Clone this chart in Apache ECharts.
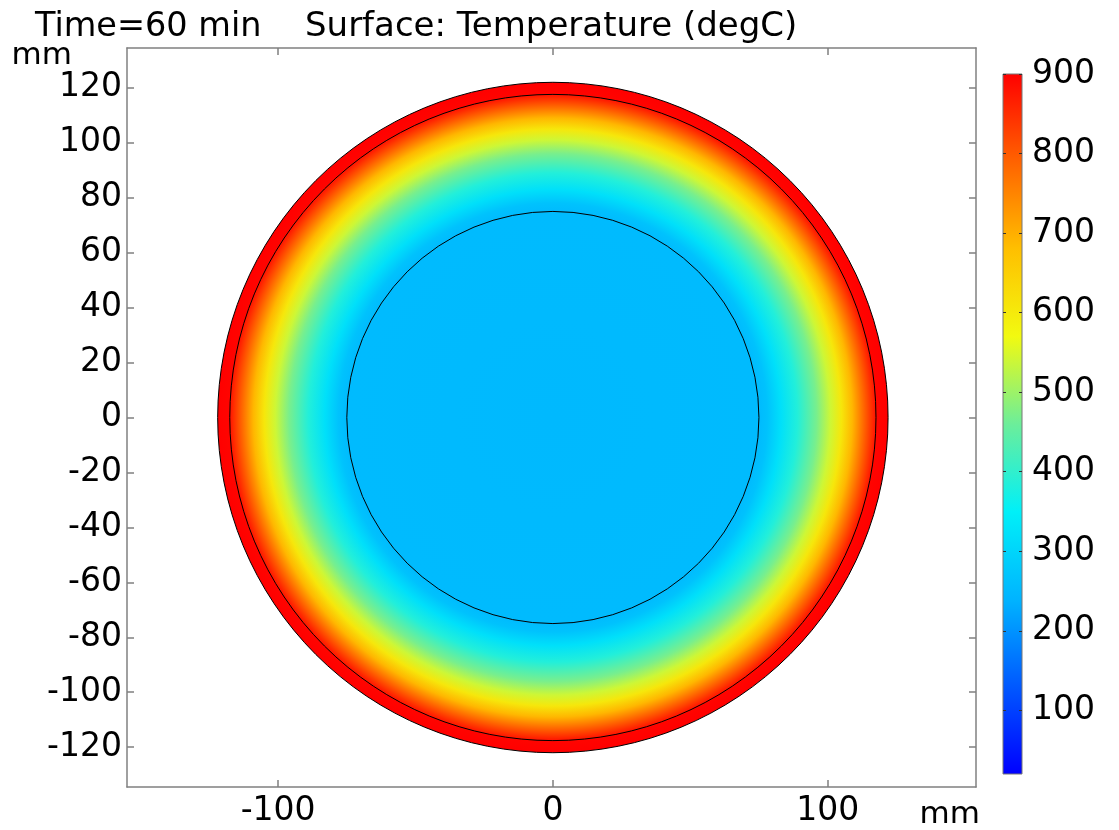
<!DOCTYPE html>
<html>
<head>
<meta charset="utf-8">
<script src="https://cdn.jsdelivr.net/npm/echarts@6/dist/echarts.min.js"></script>
<style>
html, body { margin: 0; padding: 0; background: #fff; }
#main { width: 1119px; height: 830px; }
</style>
</head>
<body>
<div id="main"></div>
<script>
// radial temperature profile at t = 60 min (radius in mm, temperature in degC)
var radius = [0, 75, 78, 83, 89, 96, 101, 105, 109, 113, 117.6, 118, 122];
var temperature = [250, 252, 265, 320, 385, 470, 540, 605, 690, 780, 880, 895, 900];
// domain boundaries (black lines), mm
var boundaryRadius = [75, 117.6, 122];
// tick labels
var xTicks = [-100, 0, 100];
var yTicks = [-120, -100, -80, -60, -40, -20, 0, 20, 40, 60, 80, 100, 120];
var barTicks = [100, 200, 300, 400, 500, 600, 700, 800, 900];
// colour range
var tempMin = 20;
var tempMax = 900;
var rainbow = ['#0000ff', '#0058ff', '#00b4ff', '#00f0f8', '#6cee9a', '#f2fa10', '#ffbf00', '#ff6200', '#ff0000'];

var FONT = 'DejaVu Sans';
var AXIS_GRAY = '#808080';

function $each(arr, fn) {
	for (var i = 0; i < arr.length; i++) {
		fn(i, arr[i]);
	}
}

var tempColor = function(t) {
	var v = (t - tempMin) / (tempMax - tempMin);
	return echarts.color.lerp(Math.max(0, Math.min(1, v)), rainbow);
};

var chart = echarts.init(document.getElementById('main'));

var tickStyle = { color: AXIS_GRAY, width: 1.5 };
var labelStyle = { fontFamily: FONT, fontSize: 33, color: '#000' };
var titleStyle = { fontFamily: FONT, fontSize: 34, fontWeight: 'normal', color: '#000' };
var lineStyle = { onZero: false, lineStyle: tickStyle };

var option = {
	animation: false,
	title: [ {
		text: 'Time=60 min',
		left: 35, top: 10, padding: 0,
		textStyle: { fontFamily: FONT, fontSize: 33.5, fontWeight: 'normal', color: '#000' }
	}, {
		text: 'Surface: Temperature (degC)',
		left: 305, top: 10, padding: 0,
		textStyle: titleStyle
	} ],
	grid: [ {
		left: 127, top: 48, width: 849, height: 739
	}, {
		left: 1003, top: 74, width: 19, height: 700
	} ],
	xAxis: [ {
		gridIndex: 0, type: 'value', min: -155, max: 154, position: 'bottom',
		name: 'mm', nameLocation: 'end', nameGap: 4,
		nameTextStyle: { fontFamily: FONT, fontSize: 31, color: '#000', align: 'right', verticalAlign: 'top', padding: [12, 0, 0, 0] },
		axisLine: lineStyle,
		axisTick: { inside: true, length: 7, customValues: xTicks, lineStyle: tickStyle },
		axisLabel: Object.assign({ customValues: xTicks, margin: 8 }, labelStyle),
		splitLine: { show: false }
	}, {
		gridIndex: 0, type: 'value', min: -155, max: 154, position: 'top',
		axisLine: lineStyle,
		axisTick: { inside: true, length: 7, customValues: xTicks, lineStyle: tickStyle },
		axisLabel: { show: false },
		splitLine: { show: false }
	}, {
		gridIndex: 1, type: 'value', min: 0, max: 1, show: false
	} ],
	yAxis: [ {
		gridIndex: 0, type: 'value', min: -134.5, max: 134.5, position: 'left',
		name: 'mm', nameLocation: 'end', nameGap: -29,
		nameTextStyle: { fontFamily: FONT, fontSize: 31, color: '#000', align: 'right', verticalAlign: 'bottom', padding: [0, 55, 0, 0] },
		axisLine: lineStyle,
		axisTick: { inside: true, length: 7, customValues: yTicks, lineStyle: tickStyle },
		axisLabel: Object.assign({ customValues: yTicks, margin: 5 }, labelStyle),
		splitLine: { show: false }
	}, {
		gridIndex: 0, type: 'value', min: -134.5, max: 134.5, position: 'right',
		axisLine: lineStyle,
		axisTick: { inside: true, length: 7, customValues: yTicks, lineStyle: tickStyle },
		axisLabel: { show: false },
		splitLine: { show: false }
	}, {
		gridIndex: 1, type: 'value', min: tempMin, max: tempMax, position: 'right', z: 10,
		axisLine: { show: false, onZero: false },
		axisTick: { inside: true, length: 3, customValues: barTicks, lineStyle: { color: '#333', width: 1 } },
		axisLabel: Object.assign({ customValues: barTicks, margin: 10 }, labelStyle),
		splitLine: { show: false }
	}, {
		gridIndex: 1, type: 'value', min: tempMin, max: tempMax, position: 'left', z: 10,
		axisLine: { show: false, onZero: false },
		axisTick: { inside: true, length: 3, customValues: barTicks, lineStyle: { color: '#333', width: 1 } },
		axisLabel: { show: false },
		splitLine: { show: false }
	} ],
	series: [ {
		// temperature field: axisymmetric, drawn as a radial gradient of the profile
		type: 'custom',
		xAxisIndex: 0,
		yAxisIndex: 0,
		data: [ [ 0, 0 ] ],
		renderItem: function(params, api) {
			var c = api.coord([ api.value(0), api.value(1) ]);
			var outerR = radius[radius.length - 1];
			var rpx = api.size([ outerR, 0 ])[0];
			var stops = [];
			$each(radius, function(i, r) {
				stops.push({ offset: r / outerR, color: tempColor(temperature[i]) });
			});
			var children = [ {
				type: 'circle',
				shape: { cx: c[0], cy: c[1], r: rpx },
				style: {
					fill: { type: 'radial', x: c[0], y: c[1], r: rpx, global: true, colorStops: stops }
				}
			} ];
			$each(boundaryRadius, function(i, r) {
				children.push({
					type: 'circle',
					shape: { cx: c[0], cy: c[1], r: api.size([ r, 0 ])[0] },
					style: { fill: null, stroke: '#000', lineWidth: 1 }
				});
			});
			return { type: 'group', children: children };
		}
	}, {
		// colour legend
		type: 'custom',
		xAxisIndex: 2,
		yAxisIndex: 2,
		data: [ [ 0, tempMin, 1, tempMax ] ],
		renderItem: function(params, api) {
			var p0 = api.coord([ api.value(0), api.value(1) ]);
			var p1 = api.coord([ api.value(2), api.value(3) ]);
			var stops = [];
			$each(rainbow, function(i, col) {
				stops.push({ offset: i / (rainbow.length - 1), color: col });
			});
			return {
				type: 'rect',
				shape: { x: p0[0], y: p1[1], width: p1[0] - p0[0], height: p0[1] - p1[1] },
				style: {
					fill: { type: 'linear', x: 0, y: 1, x2: 0, y2: 0, colorStops: stops },
					stroke: '#777',
					lineWidth: 1
				}
			};
		}
	} ]
};

chart.setOption(option);
</script>
</body>
</html>
